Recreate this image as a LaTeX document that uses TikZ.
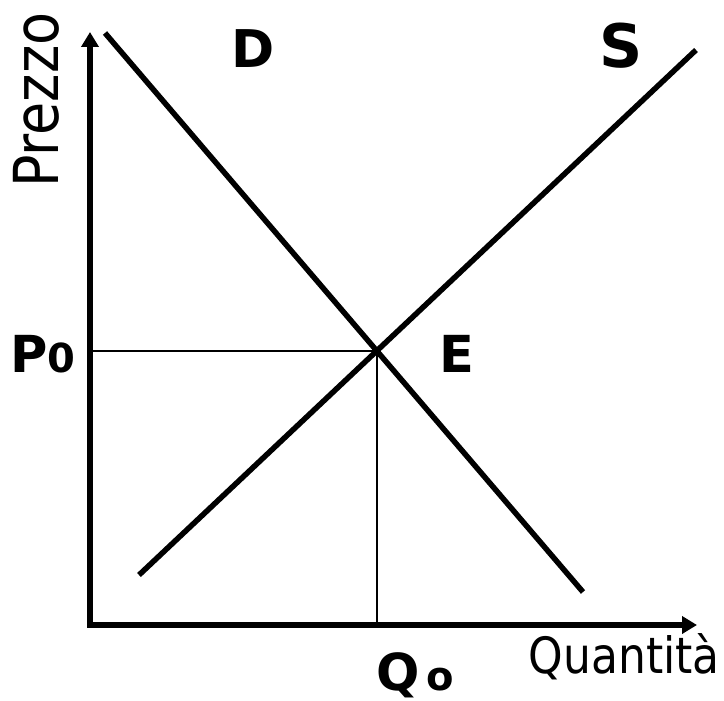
\documentclass[tikz,border=0pt]{standalone}
\usepackage{fontspec}
\setmainfont{DejaVu Sans}
\usetikzlibrary{arrows.meta}
\begin{document}
\begin{tikzpicture}[x=1pt,y=-1pt,
  axis/.style={line width=5.5pt,-{Triangle[length=15pt,width=17pt]}},
  curve/.style={line width=5.5pt},
  guide/.style={line width=2pt},
  lbl/.style={inner sep=0pt,font=\bfseries},
  axlbl/.style={inner sep=0pt}]
\useasboundingbox (0,0) rectangle (724,701);
\coordinate (O) at (90,625);
\coordinate (ytip) at (90,32);
\coordinate (xtip) at (697,625);
\coordinate (D1) at (105,33);
\coordinate (D2) at (583,592);
\coordinate (S1) at (139,575);
\coordinate (S2) at (696,50);
\coordinate (E) at (377,351);
\coordinate (Py) at (90,351);
\coordinate (Qx) at (377,625);
\draw[guide] (Py) -- (E);
\draw[guide] (E) -- (Qx);
\draw[axis] ([xshift=-2.75pt]O) -- (xtip);
\draw[axis] ([yshift=2.75pt]O) -- (ytip);
\draw[curve] (D1) -- (D2);
\draw[curve] (S1) -- (S2);
\node[lbl,font=\fontsize{52}{52}\selectfont\bfseries] (dl) at (253,49) {D};
\node[lbl,font=\fontsize{60}{60}\selectfont\bfseries] (sl) at (621,46) {S};
\node[lbl,font=\fontsize{51}{51}\selectfont\bfseries] (el) at (457,354) {E};
\node[lbl,anchor=base west] (pl) at (10,372) {\fontsize{51}{51}\selectfont\bfseries P\fontsize{40}{40}\selectfont 0};
\node[lbl,anchor=base west] (ql) at (376,690) {\fontsize{51}{51}\selectfont\bfseries Q\hspace{7pt}\fontsize{40}{40}\selectfont o};
\node[axlbl,rotate=90,anchor=base west] (pz) at (58,188) {\scalebox{0.87}[1]{\fontsize{62}{62}\selectfont Prezzo}};
\node[axlbl,anchor=base east] (qt) at (720,673) {\scalebox{0.88}[1]{\fontsize{50}{50}\selectfont Quantità}};
\end{tikzpicture}
\end{document}
